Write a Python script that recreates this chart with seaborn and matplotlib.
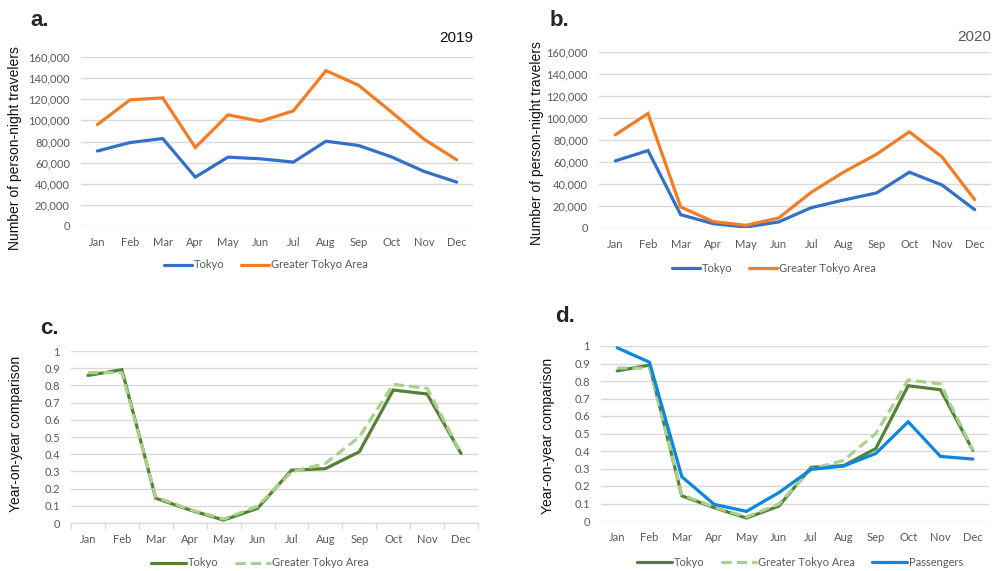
import matplotlib
matplotlib.use("Agg")
import matplotlib.pyplot as plt
from matplotlib.lines import Line2D
from matplotlib.ticker import FuncFormatter, FixedLocator
import seaborn as sns
import numpy as np

# ---- data ----
months = ["Jan", "Feb", "Mar", "Apr", "May", "Jun",
          "Jul", "Aug", "Sep", "Oct", "Nov", "Dec"]

tokyo_2019 = [71000, 79000, 82800, 46300, 65200, 63600,
              60500, 80300, 76200, 65500, 51700, 41600]
gta_2019 = [96000, 119400, 121300, 74300, 105200, 99200,
            109000, 147100, 133200, 108000, 82200, 62700]

tokyo_2020 = [61000, 70400, 12100, 3900, 900, 5500,
              18500, 25500, 31900, 50700, 39100, 16700]
gta_2020 = [84700, 104100, 19100, 5800, 2400, 9100,
            32500, 51000, 67100, 87400, 64600, 25800]

tokyo_yoy = [0.858, 0.891, 0.144, 0.076, 0.017, 0.085,
             0.307, 0.316, 0.414, 0.773, 0.750, 0.404]
gta_yoy = [0.874, 0.874, 0.151, 0.079, 0.023, 0.097,
           0.297, 0.346, 0.500, 0.806, 0.783, 0.404]
passengers_yoy = [0.990, 0.907, 0.253, 0.095, 0.055, 0.162,
                  0.295, 0.314, 0.386, 0.567, 0.369, 0.354]

# ---- style ----
C_TOKYO = "#3370C8"
C_GTA = "#F47C24"
C_GREEN = "#548235"
C_LGREEN = "#A9D18E"
C_PASS = "#0A86E3"
GRID = "#D9D9D9"
TXT = "#595959"
DASH = (3.2, 1.6)

sns.set_theme(style="white")
plt.rcParams["font.family"] = ["Lato", "DejaVu Sans"]

fig = plt.figure(figsize=(9.92, 5.71), dpi=100)
W, H = 992.0, 571.0


def add_axes(x0, y0, x1, y1):
    return fig.add_axes([x0 / W, 1 - y1 / H, (x1 - x0) / W, (y1 - y0) / H])


def style_axes(ax, ymax, step, fmt, xaxis_line=False):
    ax.set_xlim(-0.5, 11.5)
    ax.set_ylim(0, ymax)
    ax.yaxis.set_major_locator(FixedLocator(np.arange(0, ymax + step / 2, step)))
    ax.yaxis.set_major_formatter(FuncFormatter(fmt))
    ax.set_xticks(range(12))
    ax.set_xticklabels(months)
    ax.grid(axis="y", color=GRID, lw=1.0)
    ax.grid(axis="x", visible=False)
    ax.set_axisbelow(True)
    for s in ax.spines.values():
        s.set_visible(False)
    ax.tick_params(axis="both", length=0, labelsize=8, colors=TXT)
    ax.tick_params(axis="x", pad=8)
    ax.tick_params(axis="y", pad=8)
    ax.set_xlabel("")
    ax.set_ylabel("")
    if xaxis_line:
        ax.spines["bottom"].set_visible(True)
        ax.spines["bottom"].set_color(GRID)
        ax.spines["bottom"].set_linewidth(1.0)
        ax.set_xticks(np.arange(-0.5, 12, 1), minor=True)
        ax.tick_params(axis="x", which="minor", length=4, width=1.0,
                       color=GRID, bottom=True)


def draw(ax, values, color, lw=2.3, dashes=None):
    sns.lineplot(x=np.arange(12), y=values, ax=ax, color=color,
                 linewidth=lw, sort=False, legend=False)
    ln = ax.lines[-1]
    ln.set_solid_joinstyle("miter")
    if dashes is not None:
        ln.set_dashes(dashes)
    return ln


def legend(ax, handles, labels, cx, cy, hl=3.2):
    leg = ax.legend(handles, labels, loc="center",
                    bbox_to_anchor=(cx / W, 1 - cy / H),
                    bbox_transform=fig.transFigure, ncol=len(labels),
                    frameon=False, fontsize=8, handlelength=hl,
                    handletextpad=0.15, columnspacing=1.5, borderaxespad=0)
    for t in leg.get_texts():
        t.set_color(TXT)
    return leg


thousands = lambda v, p: f"{int(v):,}"
decimals = lambda v, p: "0" if v == 0 else ("1" if abs(v - 1) < 1e-9 else f"{v:.1f}")
LABEL_FONT = ["Liberation Sans", "DejaVu Sans"]

# ---- panel a ----
ax_a = add_axes(81, 57, 473, 226)
draw(ax_a, tokyo_2019, C_TOKYO)
draw(ax_a, gta_2019, C_GTA)
style_axes(ax_a, 160000, 20000, thousands)
fig.text(15 / W, 1 - 148 / H, "Number of person-night travelers", rotation=90,
         ha="center", va="center", fontsize=10, family=LABEL_FONT, color="#111111")
fig.text(30 / W, 1 - 21 / H, "a.", fontsize=16, fontweight="bold",
         family=LABEL_FONT, ha="left", va="center")
fig.text(473 / W, 1 - 38 / H, "2019", fontsize=11, family=LABEL_FONT,
         ha="right", va="center", color="#111111")
legend(ax_a, [Line2D([], [], color=C_TOKYO, lw=2.3), Line2D([], [], color=C_GTA, lw=2.3)],
       ["Tokyo", "Greater Tokyo Area"], 266, 265, hl=2.5)

# ---- panel b ----
ax_b = add_axes(599, 52, 991, 228)
draw(ax_b, tokyo_2020, C_TOKYO)
draw(ax_b, gta_2020, C_GTA)
style_axes(ax_b, 160000, 20000, thousands)
fig.text(537 / W, 1 - 143 / H, "Number of person-night travelers", rotation=90,
         ha="center", va="center", fontsize=10, family=LABEL_FONT, color="#111111")
fig.text(550 / W, 1 - 20 / H, "b.", fontsize=16, fontweight="bold",
         family=LABEL_FONT, ha="left", va="center")
fig.text(991 / W, 1 - 37 / H, "2020", fontsize=11, family=LABEL_FONT,
         ha="right", va="center", color=TXT)
legend(ax_b, [Line2D([], [], color=C_TOKYO, lw=2.3), Line2D([], [], color=C_GTA, lw=2.3)],
       ["Tokyo", "Greater Tokyo Area"], 774, 268, hl=2.5)

# ---- panel c ----
ax_c = add_axes(71, 351, 478, 523)
draw(ax_c, tokyo_yoy, C_GREEN)
draw(ax_c, gta_yoy, C_LGREEN, dashes=DASH)
style_axes(ax_c, 1.0, 0.1, decimals, xaxis_line=True)
fig.text(16 / W, 1 - 434 / H, "Year-on-year comparison", rotation=90,
         ha="center", va="center", fontsize=10, family=LABEL_FONT, color="#111111")
fig.text(40 / W, 1 - 328 / H, "c.", fontsize=16, fontweight="bold",
         family=LABEL_FONT, ha="left", va="center")
legend(ax_c, [Line2D([], [], color=C_GREEN, lw=2.3),
              Line2D([], [], color=C_LGREEN, lw=2.3, dashes=DASH)],
       ["Tokyo", "Greater Tokyo Area"], 260, 563)

# ---- panel d ----
ax_d = add_axes(601, 346, 989, 521)
draw(ax_d, tokyo_yoy, C_GREEN)
draw(ax_d, gta_yoy, C_LGREEN, dashes=DASH)
draw(ax_d, passengers_yoy, C_PASS)
style_axes(ax_d, 1.0, 0.1, decimals)
fig.text(548 / W, 1 - 436 / H, "Year-on-year comparison", rotation=90,
         ha="center", va="center", fontsize=10, family=LABEL_FONT, color="#111111")
fig.text(555 / W, 1 - 316 / H, "d.", fontsize=16, fontweight="bold",
         family=LABEL_FONT, ha="left", va="center")
legend(ax_d, [Line2D([], [], color=C_GREEN, lw=2.3),
              Line2D([], [], color=C_LGREEN, lw=2.3, dashes=DASH),
              Line2D([], [], color=C_PASS, lw=2.3)],
       ["Tokyo", "Greater Tokyo Area", "Passengers"], 800, 562)

fig.savefig("out.png", dpi=100, facecolor="white")
